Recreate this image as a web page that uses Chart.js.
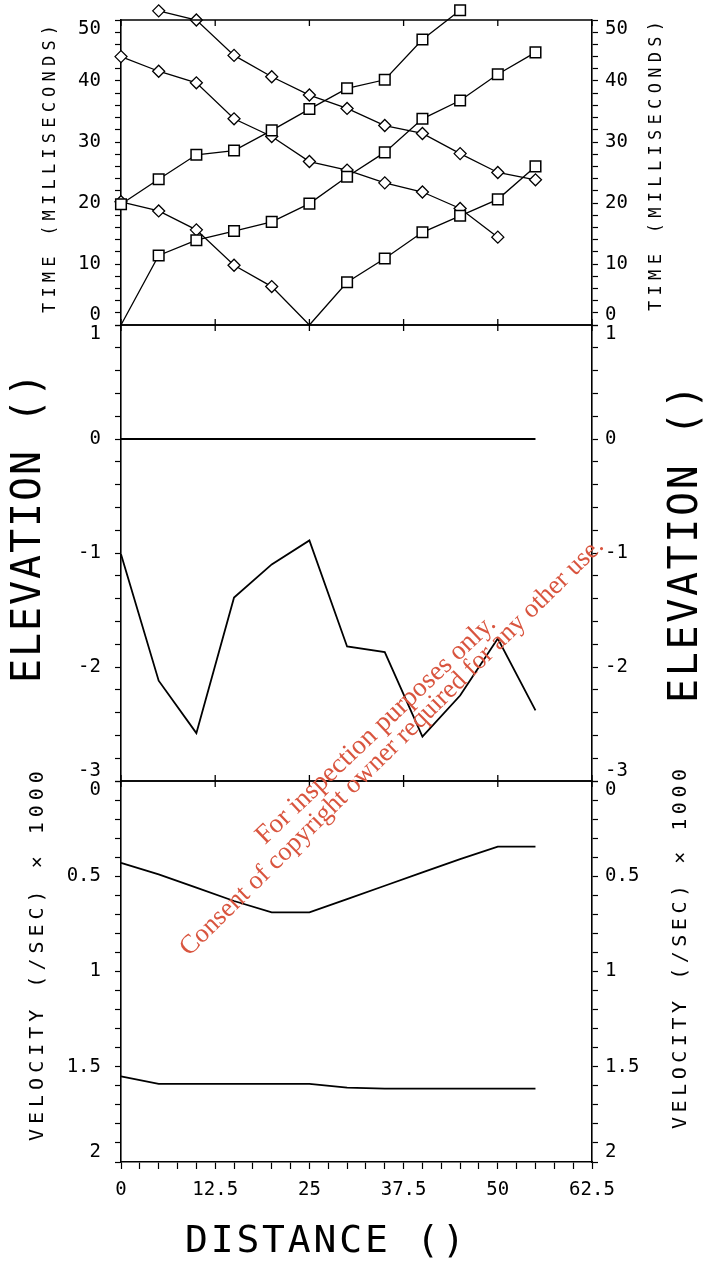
<!DOCTYPE html>
<html>
<head>
<meta charset="utf-8">
<script src="https://cdn.jsdelivr.net/npm/chart.js@4.4.1/dist/chart.umd.min.js"></script>
<style>
  html, body { margin: 0; padding: 0; background: #fff; }
  #wrap { position: relative; width: 703px; height: 1267px; }
  #wrap canvas { position: absolute; left: 0; top: 0; }
</style>
</head>
<body>
<div id="wrap">
  <canvas id="timeChart" width="703" height="1267"></canvas>
  <canvas id="elevChart" width="703" height="1267"></canvas>
  <canvas id="velChart" width="703" height="1267"></canvas>
</div>
<script>
// distance along the line
const distance = [0, 5, 10, 15, 20, 25, 30, 35, 40, 45, 50, 55];
const distanceTicks = [0, 12.5, 25, 37.5, 50, 62.5];

// travel times (ms) - diamond series
const timeDiamondA = [null, 51.5, 50.0, 44.2, 40.7, 37.7, 35.5, 32.7, 31.4, 28.1, 25.0, 23.8];
const timeDiamondB = [44.0, 41.6, 39.7, 33.8, 30.9, 26.8, 25.4, 23.3, 21.8, 19.1, 14.4, null];
const timeDiamondC = [20.2, 18.7, 15.6, 9.8, 6.3, 0, null, null, null, null, null, null];
// travel times (ms) - square series
const timeSquareA = [0, 11.4, 13.9, 15.4, 16.9, 19.9, 24.3, 28.3, 33.8, 36.8, 41.1, 44.7];
const timeSquareB = [19.8, 23.9, 27.9, 28.6, 31.9, 35.4, 38.8, 40.2, 46.8, 51.6, null, null];
const timeSquareC = [null, null, null, null, null, 0, 7.0, 10.9, 15.2, 17.9, 20.6, 26.0];

// elevation
const elevationSurface = [0, 0, 0, 0, 0, 0, 0, 0, 0, 0, 0, 0];
const elevationLayer = [-1.01, -2.12, -2.58, -1.39, -1.10, -0.89, -1.82, -1.87, -2.61, -2.25, -1.75, -2.38];

// velocity (/sec) x 1000
const velocityUpper = [0.43, 0.49, 0.56, 0.63, 0.69, 0.69, 0.62, 0.55, 0.48, 0.41, 0.345, 0.345];
const velocityLower = [1.55, 1.59, 1.59, 1.59, 1.59, 1.59, 1.61, 1.615, 1.615, 1.615, 1.615, 1.615];

const MONO = "'DejaVu Sans Mono', monospace";
const tickFont = { family: MONO, size: 19, lineHeight: 1.0 };

function pts(values) {
  return values.map((y, i) => ({ x: distance[i], y: y })).filter(p => p.y !== null);
}

// put end labels inside their own panel, like the plotter did
function edgeLabel(v, min, max, text) {
  if (Math.abs(v - max) < 1e-6) return ['', text];
  if (Math.abs(v - min) < 1e-6) return [text, ''];
  return text;
}

function noOverflow(s) {
  s.paddingTop = 0; s.paddingBottom = 0; s.paddingLeft = 0; s.paddingRight = 0;
}

function yAxis(pos, min, max, step, every, fmt, reverse) {
  return {
    type: 'linear',
    position: pos,
    min: min,
    max: max,
    reverse: !!reverse,
    ticks: {
      stepSize: step,
      autoSkip: false,
      color: '#000',
      font: tickFont,
      padding: pos === 'left' ? 14 : 7,
      callback: v => {
        const r = v / every;
        if (Math.abs(r - Math.round(r)) > 1e-6) return '';
        const lo = reverse ? max : min, hi = reverse ? min : max;
        return edgeLabel(v, lo, hi, fmt(v));
      }
    },
    grid: { drawOnChartArea: false, tickLength: 6, tickColor: '#000', tickWidth: 1.2 },
    border: { display: true, color: '#000', width: 1.6 },
    afterFit: s => { s.width = pos === 'left' ? 121 : 111; noOverflow(s); }
  };
}

function hiddenX() {
  return { type: 'linear', min: 0, max: 62.5, display: false };
}

// text stretched (via letter spacing) to a target length, like the plotter lettering
function drawText(ctx, t) {
  ctx.save();
  ctx.translate(t.x, t.y);
  if (t.rotate) ctx.rotate(-Math.PI / 2);
  ctx.font = t.font;
  ctx.letterSpacing = '0px';
  const w = ctx.measureText(t.text).width;
  const sp = (t.len - w) / (t.text.length - 1);
  ctx.letterSpacing = sp.toFixed(2) + 'px';
  ctx.fillStyle = '#000';
  ctx.textAlign = 'left';
  ctx.textBaseline = 'middle';
  ctx.fillText(t.text, -t.len / 2, 0);
  ctx.letterSpacing = '0px';
  ctx.restore();
}

// frame top/bottom edges with small inward ticks + side titles
function panelPlugin(titles, bottomEdge) {
  return {
    id: 'panel',
    afterDraw(chart) {
      const { ctx, chartArea: a, scales } = chart;
      const x = scales.x;
      ctx.save();
      ctx.strokeStyle = '#000';
      ctx.lineWidth = 1.6;
      ctx.beginPath();
      ctx.moveTo(a.left, a.top); ctx.lineTo(a.right, a.top);
      if (bottomEdge) { ctx.moveTo(a.left, a.bottom); ctx.lineTo(a.right, a.bottom); }
      ctx.stroke();
      ctx.lineWidth = 1.3;
      ctx.beginPath();
      distanceTicks.forEach(v => {
        const px = x.getPixelForValue(v);
        ctx.moveTo(px, a.top); ctx.lineTo(px, a.top + 6);
        if (bottomEdge) { ctx.moveTo(px, a.bottom); ctx.lineTo(px, a.bottom - 6); }
      });
      ctx.stroke();
      ctx.restore();
      titles.forEach(t => drawText(ctx, t));
    }
  };
}

// the plotter let markers run past the top of the frame; widen the area only while datasets draw
const looseArea = {
  id: 'looseArea',
  beforeDatasetsDraw(chart) {
    chart.$savedTop = chart.chartArea.top;
    chart.chartArea.top -= 20;
  },
  afterDatasetsDraw(chart) {
    chart.chartArea.top = chart.$savedTop;
  }
};

const watermark = {
  id: 'watermark',
  afterDraw(chart) {
    const ctx = chart.ctx;
    const lines = [
      { text: 'For inspection purposes only.', x: 376, y: 730, len: 320, ang: -43.5 },
      { text: 'Consent of copyright owner required for any other use.', x: 392, y: 747, len: 583, ang: -44.6 }
    ];
    lines.forEach(l => {
      ctx.save();
      ctx.font = "20px 'Liberation Serif', serif";
      const size = 20 * l.len / ctx.measureText(l.text).width;
      ctx.font = size.toFixed(1) + "px 'Liberation Serif', serif";
      ctx.translate(l.x, l.y);
      ctx.rotate(l.ang * Math.PI / 180);
      ctx.fillStyle = '#d9553f';
      ctx.textAlign = 'center';
      ctx.textBaseline = 'middle';
      ctx.fillText(l.text, 0, 0);
      ctx.restore();
    });
  }
};

const common = {
  responsive: false,
  animation: false,
  events: [],
  plugins: { legend: { display: false }, tooltip: { enabled: false } }
};

function lineSet(values, extra) {
  return Object.assign({
    data: pts(values),
    borderColor: '#000',
    borderWidth: 1.3,
    tension: 0,
    pointRadius: 0,
    clip: false
  }, extra);
}

const diamond = {
  pointStyle: 'rectRot',
  pointRadius: c => (c.raw && c.raw.y === 0 ? 0 : 6),
  pointBackgroundColor: '#fff',
  pointBorderColor: '#000',
  pointBorderWidth: 1.3
};
const square = {
  pointStyle: 'rect',
  pointRadius: c => (c.raw && c.raw.y === 0 ? 0 : 7.5),
  pointBackgroundColor: '#fff',
  pointBorderColor: '#000',
  pointBorderWidth: 1.5
};

// top panel: travel time
new Chart(document.getElementById('timeChart'), {
  type: 'line',
  data: {
    datasets: [
      lineSet(timeSquareA, square),
      lineSet(timeSquareB, square),
      lineSet(timeSquareC, square),
      lineSet(timeDiamondA, diamond),
      lineSet(timeDiamondB, diamond),
      lineSet(timeDiamondC, diamond)
    ]
  },
  options: Object.assign({}, common, {
    layout: { padding: { top: 20, bottom: 1267 - 325, left: 0, right: 0 } },
    scales: {
      x: hiddenX(),
      y: yAxis('left', 0, 50, 2, 10, v => String(v)),
      yR: yAxis('right', 0, 50, 2, 10, v => String(v))
    }
  }),
  plugins: [looseArea, panelPlugin([
    { text: 'TIME (MILLISECONDS)', x: 51, y: 169, len: 288, rotate: true, font: "17px " + MONO },
    { text: 'TIME (MILLISECONDS)', x: 657, y: 166, len: 290, rotate: true, font: "17px " + MONO }
  ], true)]
});

// middle panel: elevation
new Chart(document.getElementById('elevChart'), {
  type: 'line',
  data: {
    datasets: [
      lineSet(elevationSurface, { borderWidth: 1.8 }),
      lineSet(elevationLayer, { borderWidth: 1.8 })
    ]
  },
  options: Object.assign({}, common, {
    layout: { padding: { top: 325, bottom: 1267 - 781, left: 0, right: 0 } },
    scales: {
      x: hiddenX(),
      y: yAxis('left', -3, 1, 0.2, 1, v => String(Math.round(v))),
      yR: yAxis('right', -3, 1, 0.2, 1, v => String(Math.round(v)))
    }
  }),
  plugins: [panelPlugin([
    { text: 'ELEVATION ()', x: 30, y: 528, len: 310, rotate: true, font: "40px " + MONO },
    { text: 'ELEVATION ()', x: 687, y: 544, len: 318, rotate: true, font: "40px " + MONO }
  ], true)]
});

// bottom panel: velocity
const velFmt = v => String(Math.round(v * 10) / 10);
new Chart(document.getElementById('velChart'), {
  type: 'line',
  data: {
    datasets: [
      lineSet(velocityUpper, { borderWidth: 1.8 }),
      lineSet(velocityLower, { borderWidth: 1.8 })
    ]
  },
  options: Object.assign({}, common, {
    layout: { padding: { top: 781, bottom: 0, left: 0, right: 0 } },
    scales: {
      x: {
        type: 'linear',
        min: 0,
        max: 62.5,
        ticks: {
          stepSize: 2.5,
          autoSkip: false,
          maxRotation: 0,
          padding: 12,
          color: '#000',
          font: tickFont,
          callback: v => (v % 12.5 === 0 ? String(v) : '')
        },
        grid: { drawOnChartArea: false, tickLength: 7, tickColor: '#000', tickWidth: 1.2 },
        border: { display: true, color: '#000', width: 1.6 },
        afterFit: s => { s.height = 105; noOverflow(s); }
      },
      y: yAxis('left', 0, 2, 0.1, 0.5, velFmt, true),
      yR: yAxis('right', 0, 2, 0.1, 0.5, velFmt, true)
    }
  }),
  plugins: [panelPlugin([
    { text: 'VELOCITY (/SEC) \u00d7 1000', x: 38, y: 956, len: 370, rotate: true, font: "20px " + MONO },
    { text: 'VELOCITY (/SEC) \u00d7 1000', x: 681, y: 949, len: 360, rotate: true, font: "20px " + MONO },
    { text: 'DISTANCE ()', x: 325, y: 1242, len: 280, rotate: false, font: "38px " + MONO }
  ], false), watermark]
});
</script>
</body>
</html>
